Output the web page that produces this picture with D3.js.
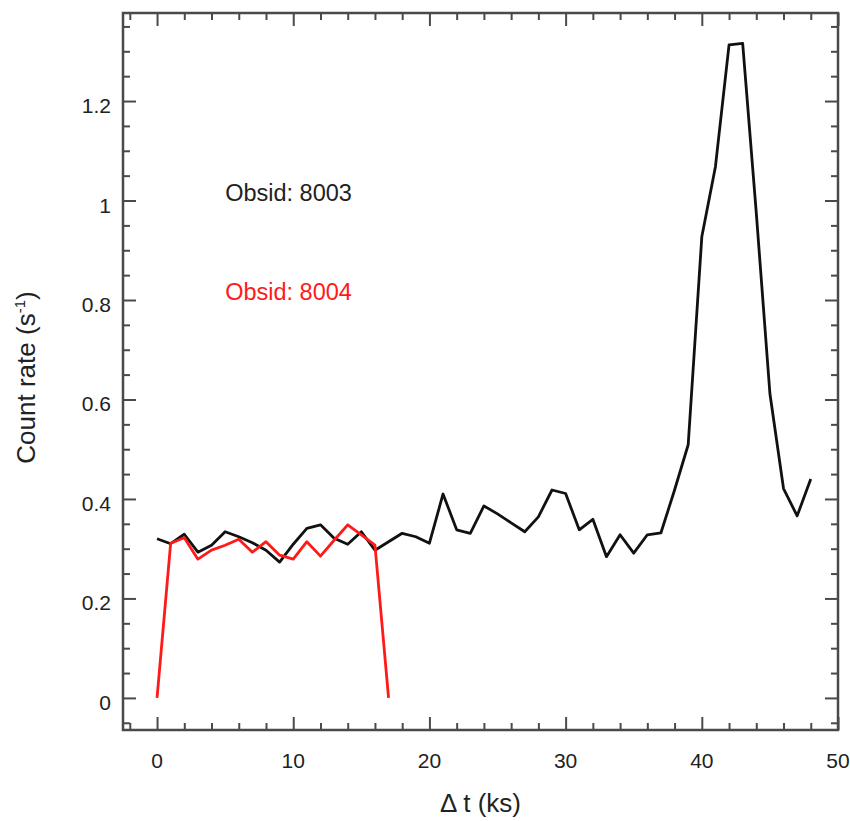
<!DOCTYPE html>
<html>
<head>
<meta charset="utf-8">
<script src="https://d3js.org/d3.v7.min.js"></script>
<style>
  body { margin: 0; background: #fff; }
  text { font-family: "Liberation Sans", Arial, sans-serif; }
</style>
</head>
<body>
<div id="chart"></div>
<script>
// time bins (ks) and count rates for the two observations
var time8003 = [0,1,2,3,4,5,6,7,8,9,10,11,12,13,14,15,16,17,18,19,20,21,22,23,24,
                25,26,27,28,29,30,31,32,33,34,35,36,37,38,39,40,41,42,43,44,45,46,47,48];
var rate8003 = [0.320,0.310,0.329,0.293,0.307,0.334,0.324,0.312,0.297,0.273,0.309,0.341,0.348,
                0.321,0.309,0.334,0.297,0.314,0.331,0.324,0.311,0.410,0.338,0.331,0.386,0.370,
                0.352,0.334,0.364,0.418,0.411,0.338,0.359,0.284,0.328,0.291,0.328,0.332,0.418,
                0.509,0.927,1.068,1.313,1.316,0.975,0.612,0.421,0.366,0.440];
var time8004 = [0,1,2,3,4,5,6,7,8,9,10,11,12,13,14,15,16,17];
var rate8004 = [0,0.311,0.322,0.279,0.297,0.307,0.319,0.293,0.314,0.287,0.279,0.314,0.285,
                0.317,0.348,0.328,0.307,0];

var xMajor = [0, 10, 20, 30, 40, 50];
var yMajor = [0, 0.2, 0.4, 0.6, 0.8, 1.0, 1.2];
var labels = ["Obsid: 8003", "Obsid: 8004"];

// dimensions of the plot box
var width = 850, height = 821;
var plotLeft = 123, plotRight = 838, plotTop = 13, plotBottom = 730;

var svg = d3.select("#chart")
  .append("svg")
    .attr("width", width)
    .attr("height", height);

var x = d3.scaleLinear().domain([-2.5, 50]).range([plotLeft, plotRight]);
var y = d3.scaleLinear().domain([-0.0645, 1.377]).range([plotBottom, plotTop]);

var axisColor = "#4a4a4a";

// minor tick values
var xMinor = d3.range(-2, 50.01, 2).filter(function(v) { return v % 10 !== 0; });
var yMinor = d3.range(-0.05, 1.376, 0.05).filter(function(v) {
  return Math.abs(v / 0.2 - Math.round(v / 0.2)) > 0.01;
});

// axes: ticks point inward on all four sides
function styleAxis(g) {
  g.select(".domain").remove();
  g.selectAll("line").attr("stroke", axisColor).attr("stroke-width", 2);
}

svg.append("g")
  .attr("transform", "translate(0," + plotBottom + ")")
  .call(d3.axisTop(x).tickValues(xMajor).tickSize(13).tickFormat(""))
  .call(styleAxis);
svg.append("g")
  .attr("transform", "translate(0," + plotBottom + ")")
  .call(d3.axisTop(x).tickValues(xMinor).tickSize(7).tickFormat(""))
  .call(styleAxis);
svg.append("g")
  .attr("transform", "translate(0," + plotTop + ")")
  .call(d3.axisBottom(x).tickValues(xMajor).tickSize(13).tickFormat(""))
  .call(styleAxis);
svg.append("g")
  .attr("transform", "translate(0," + plotTop + ")")
  .call(d3.axisBottom(x).tickValues(xMinor).tickSize(7).tickFormat(""))
  .call(styleAxis);

svg.append("g")
  .attr("transform", "translate(" + plotLeft + ",0)")
  .call(d3.axisRight(y).tickValues(yMajor).tickSize(13).tickFormat(""))
  .call(styleAxis);
svg.append("g")
  .attr("transform", "translate(" + plotLeft + ",0)")
  .call(d3.axisRight(y).tickValues(yMinor).tickSize(7).tickFormat(""))
  .call(styleAxis);
svg.append("g")
  .attr("transform", "translate(" + plotRight + ",0)")
  .call(d3.axisLeft(y).tickValues(yMajor).tickSize(13).tickFormat(""))
  .call(styleAxis);
svg.append("g")
  .attr("transform", "translate(" + plotRight + ",0)")
  .call(d3.axisLeft(y).tickValues(yMinor).tickSize(7).tickFormat(""))
  .call(styleAxis);

// frame
svg.append("rect")
  .attr("x", plotLeft).attr("y", plotTop)
  .attr("width", plotRight - plotLeft).attr("height", plotBottom - plotTop)
  .attr("fill", "none")
  .attr("stroke", axisColor)
  .attr("stroke-width", 2.5);

// tick labels
svg.selectAll(".xlab")
  .data(xMajor)
  .enter()
  .append("text")
    .attr("x", function(d) { return x(d); })
    .attr("y", 768)
    .attr("text-anchor", "middle")
    .style("font-size", "21px")
    .style("fill", "#222")
    .text(function(d) { return d; });

svg.selectAll(".ylab")
  .data(yMajor)
  .enter()
  .append("text")
    .attr("x", 111)
    .attr("y", function(d) { return y(d) + 12; })
    .attr("text-anchor", "end")
    .style("font-size", "21px")
    .style("fill", "#222")
    .text(function(d) { return d3.format("~g")(d); });

// axis titles
svg.append("text")
  .attr("x", (plotLeft + plotRight) / 2)
  .attr("y", 812)
  .attr("text-anchor", "middle")
  .style("font-size", "26px")
  .style("fill", "#222")
  .text("\u0394 t (ks)");

var ytitle = svg.append("text")
  .attr("transform", "translate(35," + ((plotTop + plotBottom) / 2 + 6) + ") rotate(-90)")
  .attr("text-anchor", "middle")
  .style("font-size", "26px")
  .style("fill", "#222");
ytitle.append("tspan").text("Count rate (s");
ytitle.append("tspan").attr("dy", -10).style("font-size", "15px").text("-1");
ytitle.append("tspan").attr("dy", 10).text(")");

// light curves
var line = d3.line()
  .x(function(d) { return x(d[0]); })
  .y(function(d) { return y(d[1]); });

svg.append("path")
  .datum(d3.zip(time8003, rate8003))
  .attr("d", line)
  .attr("fill", "none")
  .attr("stroke", "#111")
  .attr("stroke-width", 2.8)
  .attr("stroke-linejoin", "round");

svg.append("path")
  .datum(d3.zip(time8004, rate8004))
  .attr("d", line)
  .attr("fill", "none")
  .attr("stroke", "#ff1a1a")
  .attr("stroke-width", 2.8)
  .attr("stroke-linejoin", "round");

// labels placed in data coordinates
svg.append("text").attr("x", x(5)).attr("y", y(1.0)).text(labels[0])
  .style("font-size", "23.5px").style("fill", "#222");
svg.append("text").attr("x", x(5)).attr("y", y(0.8)).text(labels[1])
  .style("font-size", "23.5px").style("fill", "#ff1a1a");
</script>
</body>
</html>
